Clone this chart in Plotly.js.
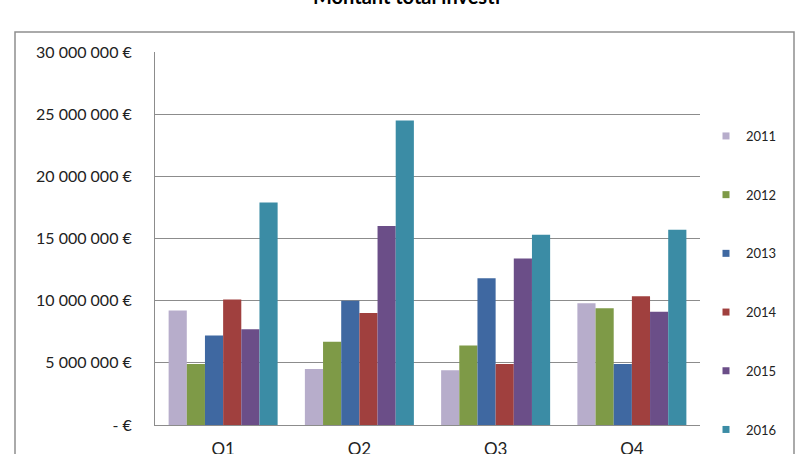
<!DOCTYPE html>
<html>
<head>
<meta charset="utf-8">
<script src="https://cdn.plot.ly/plotly-3.0.1.min.js"></script>
<style>html,body{margin:0;padding:0;background:#fff;}#chart{width:807px;height:454px;}</style>
</head>
<body>
<div id="chart"></div>
<script>
const quarters = ['Q1', 'Q2', 'Q3', 'Q4'];
const years = ['2011', '2012', '2013', '2014', '2015', '2016'];
const v2011 = [9200000, 4500000, 4400000, 9800000];
const v2012 = [4900000, 6700000, 6400000, 9400000];
const v2013 = [7200000, 10000000, 11800000, 4900000];
const v2014 = [10100000, 9000000, 4900000, 10350000];
const v2015 = [7700000, 16000000, 13400000, 9100000];
const v2016 = [17900000, 24500000, 15300000, 15700000];
const tickVals = [0, 5000000, 10000000, 15000000, 20000000, 25000000, 30000000];
const tickText = ['- €', '5 000 000 €', '10 000 000 €', '15 000 000 €', '20 000 000 €', '25 000 000 €', '30 000 000 €'];
const colors = ['#b7adcb', '#7e9a47', '#3f68a1', '#a0403e', '#6b4e88', '#3b8ca5'];
const series = [v2011, v2012, v2013, v2014, v2015, v2016];

const traces = [];
series.forEach((vals, i) => {
  traces.push({
    type: 'bar', x: quarters, y: vals, name: years[i],
    marker: {color: colors[i], line: {width: 0}},
    showlegend: false, legendgroup: years[i], hoverinfo: 'x+y+name'
  });
});
series.forEach((vals, i) => {
  traces.push({
    type: 'scatter', mode: 'markers', x: [null], y: [null], name: years[i],
    marker: {color: colors[i], symbol: 'square', size: 7},
    showlegend: true, legendgroup: years[i], hoverinfo: 'skip'
  });
});

const L = 155, R = 700, T = 52, B = 425, W = 807, H = 454;
const pw = R - L, ph = B - T;
const px = (x) => (x - L) / pw;
const py = (y) => (B - y) / ph;

const layout = {
  width: W, height: H,
  margin: {l: L, r: W - R, t: T, b: H - B, pad: 0},
  paper_bgcolor: '#ffffff', plot_bgcolor: '#ffffff',
  barmode: 'group', bargap: 0.2, bargroupgap: 0,
  font: {family: 'Lato, sans-serif', color: '#222'},
  showlegend: true,
  legend: {
    xref: 'container', yref: 'container',
    x: 706 / W, xanchor: 'left', y: 1 - 121 / H, yanchor: 'top',
    maxheight: 600,
    traceorder: 'grouped', tracegroupgap: 38.8,
    font: {family: 'Lato, sans-serif', size: 13, color: '#222'},
    bgcolor: 'rgba(0,0,0,0)', borderwidth: 0
  },
  xaxis: {
    type: 'category', categoryorder: 'array', categoryarray: quarters,
    showgrid: false, zeroline: false,
    showline: true, linecolor: '#8c8c8c', linewidth: 1,
    ticks: '', ticklabelstandoff: 9,
    tickfont: {family: 'Lato, sans-serif', size: 17, color: '#222'},
    fixedrange: true
  },
  yaxis: {
    range: [0, 30000000], tickvals: tickVals, ticktext: tickText,
    showgrid: true, gridcolor: '#8c8c8c', gridwidth: 1,
    zeroline: false, showline: true, linecolor: '#8c8c8c', linewidth: 1,
    ticks: '', ticklabelstandoff: 19,
    tickfont: {family: 'Lato, sans-serif', size: 16, color: '#222'},
    fixedrange: true
  },
  shapes: [{
    type: 'rect', xref: 'paper', yref: 'paper',
    x0: px(15), x1: px(794), y0: py(470), y1: py(32),
    line: {color: '#8e8e8e', width: 1.5}, fillcolor: 'rgba(0,0,0,0)', layer: 'below'
  }],
  annotations: [{
    text: '<b>Montant total investi</b>', xref: 'paper', yref: 'paper',
    x: px(406), y: py(-4), xanchor: 'center', yanchor: 'middle', showarrow: false,
    font: {family: 'Lato, sans-serif', size: 20, color: '#000'}
  }]
};

Plotly.newPlot('chart', traces, layout, {displayModeBar: false, staticPlot: true});
</script>
</body>
</html>
